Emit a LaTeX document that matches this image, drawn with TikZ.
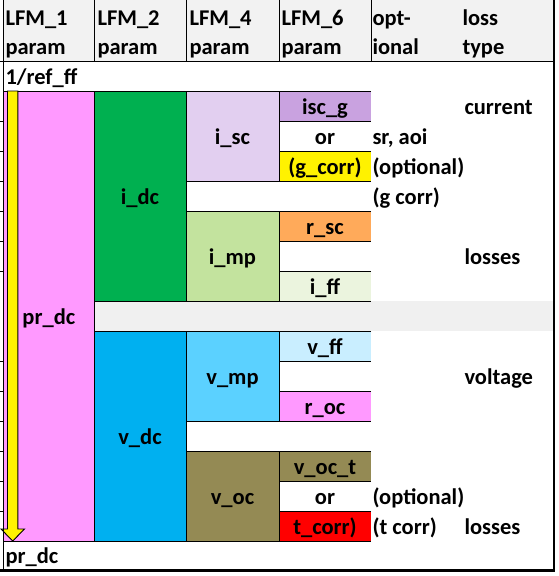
\documentclass[tikz,border=0pt]{standalone}
\usepackage{fontspec}
\setmainfont{Carlito}
\definecolor{hdrgray}{HTML}{F2F2F2}
\definecolor{rowgray}{HTML}{F0F0F0}
\definecolor{prpink}{HTML}{FF99FF}
\definecolor{idcgreen}{HTML}{00B050}
\definecolor{vdcblue}{HTML}{00B0F0}
\definecolor{iscl}{HTML}{E2CFF0}
\definecolor{impg}{HTML}{C3E39E}
\definecolor{vmpb}{HTML}{5BD1FF}
\definecolor{olivec}{HTML}{948A54}
\definecolor{iscg}{HTML}{C9A2E0}
\definecolor{rscor}{HTML}{FFAA5A}
\definecolor{iffg}{HTML}{EBF4DE}
\definecolor{vffb}{HTML}{C9EEFF}
\begin{document}
\begin{tikzpicture}[x=1pt,y=-1pt,
  font=\bfseries\fontsize{22.5}{25}\selectfont,
  cellbox/.style={rectangle, inner sep=0pt, outer sep=0pt, text height=17pt, text depth=0pt, align=center},
  big/.style={cellbox, minimum width=92pt, minimum height=210pt, draw=black, line width=0.9pt},
  mid/.style={cellbox, minimum width=93pt, minimum height=90pt, draw=black, line width=0.9pt},
  small/.style={cellbox, minimum width=92pt, minimum height=30pt},
  lft/.style={inner sep=0pt, outer sep=0pt, anchor=base west},
  hl/.style={line width=0.9pt}]
\useasboundingbox (0,0) rectangle (558,576);
\fill[white] (0,0) rectangle (558,576);
% header
\fill[hdrgray] (3,0) rectangle (553,61);
\fill[rowgray] (94,301) rectangle (553,331);
% column 1
\node[cellbox, minimum width=91pt, minimum height=450pt, draw=black, line width=0.9pt, fill=prpink] (prdc) at (48.5,316) {};
% column 2
\node[big, fill=idcgreen] (idc) at (140,196) {i\_dc};
\node[big, fill=vdcblue] (vdc) at (140,436) {v\_dc};
% column 3
\node[mid, fill=iscl] (isc) at (232.5,136) {i\_sc};
\node[mid, fill=impg] (imp) at (232.5,256) {i\_mp};
\node[mid, fill=vmpb] (vmp) at (232.5,376) {v\_mp};
\node[mid, fill=olivec] (voc) at (232.5,496) {v\_oc};
% column 4
\node[small, fill=iscg] (iscgc) at (325,106) {isc\_g};
\node[small] (or1) at (325,136) {or};
\node[small, fill=yellow] (gcorr) at (325,166) {(g\_corr)};
\node[small, fill=rscor] (rsc) at (325,226) {r\_sc};
\node[small, fill=iffg] (iff) at (325,286) {i\_ff};
\node[small, fill=vffb] (vff) at (325,346) {v\_ff};
\node[small, fill=prpink] (roc) at (325,406) {r\_oc};
\node[small, fill=olivec] (voct) at (325,466) {v\_oc\_t};
\node[small] (or2) at (325,496) {or};
\node[small, fill=red] (tcorr) at (325,526) {t\_corr)};
\foreach \c in {iscgc,gcorr,rsc,iff,vff,roc,voct,tcorr}
  \draw[hl] (\c.north east) -- (\c.north west) -- (\c.south west) -- (\c.south east);
% block arrow
\filldraw[fill=yellow, draw=black, line width=0.9pt]
  (7.5,91) -- (17.8,91) -- (17.8,529) -- (24.5,529) -- (12.7,541) -- (1,529) -- (7.5,529) -- cycle;
% header texts
\node[lft] (h1a) at (5.5,25) {LFM\_1};
\node[lft] (h2a) at (97.5,25) {LFM\_2};
\node[lft] (h3a) at (189.5,25) {LFM\_4};
\node[lft] (h4a) at (281.5,25) {LFM\_6};
\node[lft] (h5a) at (372.5,25) {opt-};
\node[lft] (h6a) at (462.5,25) {loss};
\node[lft] (h1b) at (5.5,54.5) {param};
\node[lft] (h2b) at (97.5,54.5) {param};
\node[lft] (h3b) at (189.5,54.5) {param};
\node[lft] (h4b) at (281.5,54.5) {param};
\node[lft] (h5b) at (372.5,54.5) {ional};
\node[lft] (h6b) at (462.5,54.5) {type};
\node[lft] (refff) at (5.5,84) {1/ref\_ff};
\node[lft] (prmid) at (22.5,324) {pr\_dc};
\node[lft] (prbot) at (5.5,563) {pr\_dc};
% optional column
\node[lft] (o1) at (372.5,144.5) {sr, aoi};
\node[lft] (o2) at (372.5,174.5) {(optional)};
\node[lft] (o3) at (372.5,204.5) {(g corr)};
\node[lft] (o4) at (372.5,504.5) {(optional)};
\node[lft] (o5) at (372.5,534.5) {(t corr)};
% loss type column
\node[lft] (l1) at (464.5,114.5) {current};
\node[lft] (l2) at (464.5,264.5) {losses};
\node[lft] (l3) at (464.5,384.5) {voltage};
\node[lft] (l4) at (464.5,534.5) {losses};
% frame and grid
\draw[hl] (0,61) -- (553,61);
\foreach \xx in {94,186,279,371} \draw[hl] (\xx,0) -- (\xx,61);
\foreach \yy in {121,151,181,211,241,271,361,391,421,451,481,511} \draw[hl] (0,\yy) -- (3,\yy);
\draw[hl] (3,0) -- (3,571);
\draw[line width=2pt] (553.5,0) -- (553.5,571.5);
\draw[line width=2.5pt] (0,570.5) -- (554.5,570.5);
\end{tikzpicture}
\end{document}
